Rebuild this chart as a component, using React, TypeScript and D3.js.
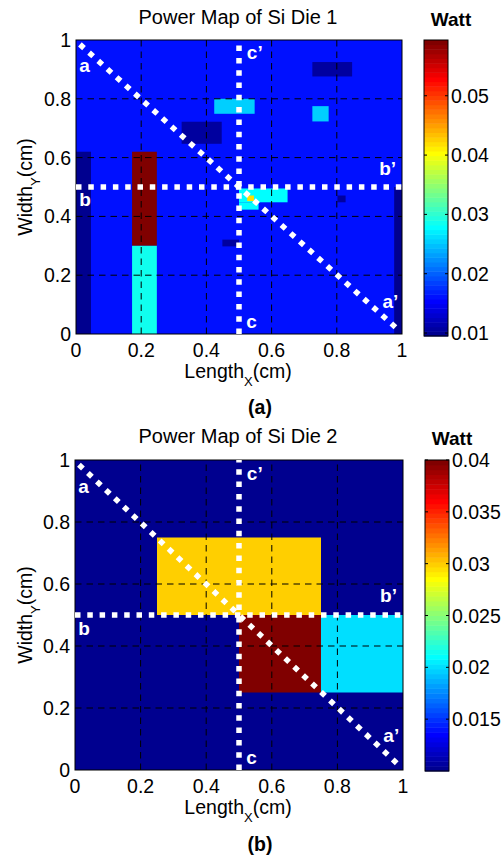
import * as d3 from 'd3'

// axes ticks (cm)
const axisTicks = [0, 0.2, 0.4, 0.6, 0.8, 1]
const axisTickLabels = ['0', '0.2', '0.4', '0.6', '0.8', '1']
const gridTicks = [0.2, 0.4, 0.6, 0.8]

// Die 1: colour limits, colorbar ticks, background level, blocks [x0, x1, y0, y1, watt]
const die1Domain: [number, number] = [0.0095, 0.0594]
const die1Ticks = [0.01, 0.02, 0.03, 0.04, 0.05]
const die1Base = 0.0161
const die1Blocks: number[][] = [
  [0, 0.046, 0, 0.62, 0.01],
  [0.976, 1, 0, 0.5, 0.01],
  [0.172, 0.248, 0.3, 0.62, 0.059],
  [0.172, 0.248, 0, 0.3, 0.0286],
  [0.324, 0.447, 0.647, 0.722, 0.0105],
  [0.424, 0.548, 0.749, 0.8, 0.0255],
  [0.725, 0.775, 0.723, 0.775, 0.0255],
  [0.725, 0.847, 0.876, 0.925, 0.0105],
  [0.5, 0.649, 0.448, 0.495, 0.028],
  [0.5, 0.56, 0.423, 0.448, 0.028],
  [0.525, 0.546, 0.452, 0.471, 0.0419],
  [0.449, 0.5, 0.298, 0.321, 0.0105],
  [0.802, 0.827, 0.448, 0.471, 0.0105],
]

// Die 2
const die2Domain: [number, number] = [0.01, 0.04]
const die2Ticks = [0.015, 0.02, 0.025, 0.03, 0.035, 0.04]
const die2Base = 0.01
const die2Blocks: number[][] = [
  [0.25, 0.75, 0.5, 0.75, 0.03],
  [0.5, 0.75, 0.25, 0.5, 0.04],
  [0.75, 1, 0.25, 0.5, 0.02],
]

// cut-line annotations [label, x, y] in cm
const cutLabels: [string, number, number][] = [
  ['a', 0.01, 0.892],
  ['c\u2019', 0.524, 0.935],
  ['b\u2019', 0.93, 0.542],
  ['b', 0.01, 0.437],
  ['a\u2019', 0.94, 0.089],
  ['c', 0.522, 0.02],
]

const FONT = '"Liberation Sans", Arial, Helvetica, sans-serif'

function jet64(k: number) {
  const c = (v: number) => Math.max(0, Math.min(1, v))
  const r = c(Math.min((k - 24) / 16, (72 - k) / 16))
  const g = c(Math.min((k - 8) / 16, (56 - k) / 16))
  const b = c(Math.min((k + 8) / 16, (40 - k) / 16))
  return d3.rgb(r * 255, g * 255, b * 255).formatHex()
}

function colorFor(v: number, [lo, hi]: [number, number]) {
  const k = Math.max(1, Math.min(64, Math.floor(((v - lo) / (hi - lo)) * 64) + 1))
  return jet64(k)
}

type Layout = {
  left: number; right: number; top: number; bottom: number
  cbLeft: number; cbRight: number; cbTop: number; cbBottom: number
  titleY: number; capY: number
}

function Panel({ lay, title, caption, domain, ticks, base, blocks }: {
  lay: Layout; title: string; caption: string; domain: [number, number]
  ticks: number[]; base: number; blocks: number[][]
}) {
  const x = d3.scaleLinear().domain([0, 1]).range([lay.left, lay.right])
  const y = d3.scaleLinear().domain([0, 1]).range([lay.bottom, lay.top])
  const cb = d3.scaleLinear().domain(domain).range([lay.cbBottom, lay.cbTop])
  const bands = d3.range(64)
  const step = (domain[1] - domain[0]) / 64
  const line = d3.line<[number, number]>().x(d => x(d[0])).y(d => y(d[1]))
  const cx = (lay.left + lay.right) / 2 - 1
  const cy = (lay.top + lay.bottom) / 2
  const dots = { stroke: '#fff', strokeWidth: 5.5, strokeDasharray: '5.5 6.8', fill: 'none' }

  return (
    <g fontFamily={FONT}>
      <text x={cx} y={lay.titleY} fontSize={20} textAnchor="middle">{title}</text>
      <rect x={x(0)} y={y(1)} width={x(1) - x(0)} height={y(0) - y(1)} fill={colorFor(base, domain)} />
      {blocks.map((b, i) => (
        <rect key={i} x={x(b[0])} y={y(b[3])} width={x(b[1]) - x(b[0])} height={y(b[2]) - y(b[3])}
          fill={colorFor(b[4], domain)} />
      ))}
      {gridTicks.map(t => (
        <g key={t} stroke="#000" strokeWidth={1} strokeDasharray="6.5 5">
          <line x1={x(t)} x2={x(t)} y1={y(0)} y2={y(1)} />
          <line x1={x(0)} x2={x(1)} y1={y(t)} y2={y(t)} />
        </g>
      ))}
      <rect x={x(0)} y={y(1)} width={x(1) - x(0)} height={y(0) - y(1)} fill="none" stroke="#000" strokeWidth={1} />
      <path d={line([[0, 0.5], [1, 0.5]]) ?? ''} style={dots} />
      <path d={line([[0.5, 0], [0.5, 1]]) ?? ''} style={dots} />
      <path d={line([[0.012, 0.985], [0.988, 0.015]]) ?? ''} style={dots} />
      {cutLabels.map(([s, lx, ly]) => (
        <text key={s} x={x(lx)} y={y(ly)} fill="#fff" fontWeight="bold" fontSize={19}>{s}</text>
      ))}
      {axisTicks.map((t, i) => (
        <g key={t} fontSize={19.5}>
          <text x={x(t)} y={lay.bottom + 23} textAnchor="middle">{axisTickLabels[i]}</text>
          <text x={lay.left - 5} y={y(t) + 7} textAnchor="end">{axisTickLabels[i]}</text>
        </g>
      ))}
      <text x={cx} y={lay.bottom + 44} fontSize={19.5} textAnchor="middle">
        Length<tspan fontSize={13} dy={8}>X</tspan><tspan dy={-8}>(cm)</tspan>
      </text>
      <text transform={`translate(32,${cy}) rotate(-90)`} fontSize={19.5} textAnchor="middle">
        Width<tspan fontSize={13} dy={8}>Y</tspan><tspan dy={-8}>(cm)</tspan>
      </text>
      <text x={260} y={lay.capY} fontSize={19.5} fontWeight="bold" textAnchor="middle">{caption}</text>

      {/* colorbar */}
      <text x={lay.cbLeft + 27} y={lay.titleY + 2} fontSize={19} fontWeight="bold" textAnchor="middle">Watt</text>
      {bands.map(k => (
        <rect key={k} x={lay.cbLeft} width={lay.cbRight - lay.cbLeft}
          y={cb(domain[0] + (k + 1) * step)} height={cb(domain[0] + k * step) - cb(domain[0] + (k + 1) * step) + 0.5}
          fill={jet64(k + 1)} />
      ))}
      <rect x={lay.cbLeft} y={lay.cbTop} width={lay.cbRight - lay.cbLeft} height={lay.cbBottom - lay.cbTop}
        fill="none" stroke="#000" strokeWidth={1} />
      {ticks.map(t => (
        <g key={t}>
          <line x1={lay.cbLeft} x2={lay.cbLeft + 3} y1={cb(t)} y2={cb(t)} stroke="#000" />
          <line x1={lay.cbRight - 3} x2={lay.cbRight} y1={cb(t)} y2={cb(t)} stroke="#000" />
          <text x={lay.cbRight + 3} y={cb(t) + 7} fontSize={19.5}>{String(t)}</text>
        </g>
      ))}
    </g>
  )
}

const lay1: Layout = { left: 76, right: 402, top: 40, bottom: 334, cbLeft: 424, cbRight: 448, cbTop: 40, cbBottom: 336, titleY: 24, capY: 414 }
const lay2: Layout = { left: 75, right: 403, top: 460, bottom: 770, cbLeft: 425, cbRight: 449, cbTop: 460, cbBottom: 771, titleY: 443, capY: 851 }

export default function App() {
  return (
    <div style={{ position: 'absolute', left: 0, top: 0, background: '#fff' }}>
      <svg width={503} height={860} style={{ display: 'block' }}>
        <rect width={503} height={860} fill="#fff" />
        <Panel lay={lay1} title="Power Map of Si Die 1" caption="(a)" domain={die1Domain}
          ticks={die1Ticks} base={die1Base} blocks={die1Blocks} />
        <Panel lay={lay2} title="Power Map of Si Die 2" caption="(b)" domain={die2Domain}
          ticks={die2Ticks} base={die2Base} blocks={die2Blocks} />
      </svg>
    </div>
  )
}
